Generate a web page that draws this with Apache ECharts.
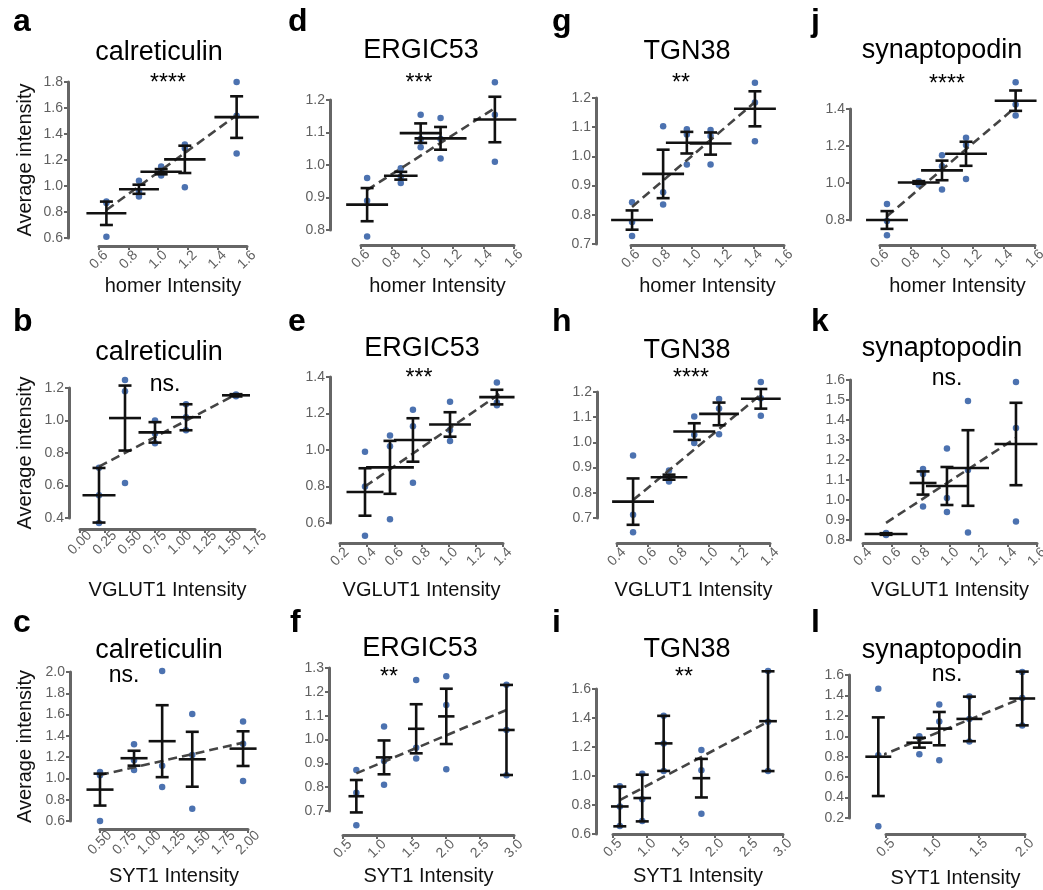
<!DOCTYPE html>
<html><head><meta charset="utf-8">
<script src="https://cdn.jsdelivr.net/npm/echarts@6/dist/echarts.min.js"></script>
<style>html,body{margin:0;padding:0;background:#fff}#c{width:1043px;height:890px}</style>
</head><body><div id="c"></div>
<script>
// ---------------- DATA ----------------
// Each panel: group x-means, y-means, y-SEM, x half-width (x-SEM), replicate points, fitted line ends
const A_X = [0.65, 0.87, 1.02, 1.18, 1.53];
const A_MEAN = [0.79, 0.975, 1.11, 1.205, 1.53];
const A_SEM = [0.09, 0.035, 0.02, 0.105, 0.16];
const A_XERR = [0.135, 0.135, 0.14, 0.14, 0.15];
const A_PTS = [[0.88,0.87,0.61],[1.04,0.96,0.92],[1.15,1.12,1.08],[1.32,1.29,0.99],[1.80,1.54,1.25]];
const A_FIT = [[0.65,0.815],[1.53,1.545]];

const B_X = [0.19, 0.45, 0.75, 1.06, 1.56];
const B_MEAN = [0.54, 1.015, 0.927, 1.02, 1.155];
const B_SEM = [0.168, 0.2, 0.063, 0.08, 0.007];
const B_XERR = [0.165, 0.16, 0.165, 0.15, 0.14];
const B_PTS = [[0.71,0.54,0.37],[1.25,1.18,0.615],[1.0,0.92,0.86],[1.1,1.02,0.94],[1.16,1.155,1.15]];
const B_FIT = [[0.19,0.716],[1.56,1.161]];

const C_X = [0.5, 0.845, 1.13, 1.435, 1.95];
const C_MEAN = [0.895, 1.19, 1.35, 1.18, 1.28];
const C_SEM = [0.15, 0.07, 0.338, 0.258, 0.163];
const C_XERR = [0.137, 0.137, 0.137, 0.137, 0.137];
const C_PTS = [[1.06,1.03,0.6],[1.32,1.17,1.08],[2.01,1.12,0.92],[1.605,1.22,0.715],[1.535,1.325,0.975]];
const C_FIT = [[0.5,1.032],[1.95,1.336]];

const D_X = [0.64, 0.86, 0.99, 1.12, 1.475];
const D_MEAN = [0.878, 0.967, 1.098, 1.082, 1.14];
const D_SEM = [0.051, 0.012, 0.03, 0.035, 0.07];
const D_XERR = [0.137, 0.11, 0.137, 0.17, 0.14];
const D_PTS = [[0.96,0.89,0.78],[0.99,0.965,0.945],[1.155,1.08,1.055],[1.145,1.08,1.02],[1.255,1.155,1.01]];
const D_FIT = [[0.64,0.923],[1.475,1.175]];

const E_X = [0.384, 0.568, 0.737, 1.01, 1.355];
const E_MEAN = [0.77, 0.905, 1.055, 1.14, 1.29];
const E_SEM = [0.13, 0.145, 0.119, 0.067, 0.04];
const E_XERR = [0.136, 0.176, 0.14, 0.154, 0.13];
const E_PTS = [[0.99,0.80,0.53],[1.08,1.02,0.62],[1.22,1.13,0.82],[1.265,1.11,1.05],[1.37,1.26,1.245]];
const E_FIT = [[0.384,0.80],[1.38,1.31]];

const F_X = [0.695, 1.1, 1.57, 2.01, 2.89];
const F_MEAN = [0.762, 0.925, 1.045, 1.097, 1.04];
const F_SEM = [0.068, 0.071, 0.103, 0.116, 0.189];
const F_XERR = [0.115, 0.12, 0.12, 0.12, 0.12];
const F_PTS = [[0.872,0.777,0.64],[1.055,0.91,0.81],[1.25,0.965,0.92],[1.265,1.145,0.875],[1.23,1.04,0.85]];
const F_FIT = [[0.695,0.858],[2.89,1.124]];

const G_X = [0.607, 0.81, 0.965, 1.12, 1.41];
const G_MEAN = [0.782, 0.94, 1.047, 1.044, 1.163];
const G_SEM = [0.033, 0.083, 0.037, 0.038, 0.06];
const G_XERR = [0.137, 0.137, 0.137, 0.137, 0.137];
const G_PTS = [[0.843,0.775,0.727],[1.103,0.877,0.835],[1.093,1.075,0.972],[1.09,1.07,0.972],[1.252,1.185,1.052]];
const G_FIT = [[0.607,0.827],[1.41,1.186]];

const H_X = [0.505, 0.74, 0.905, 1.067, 1.34];
const H_MEAN = [0.765, 0.862, 1.043, 1.113, 1.173];
const H_SEM = [0.092, 0.01, 0.033, 0.045, 0.039];
const H_XERR = [0.137, 0.12, 0.137, 0.13, 0.13];
const H_PTS = [[0.948,0.713,0.643],[0.888,0.853,0.845],[1.103,1.03,0.998],[1.172,1.135,1.032],[1.24,1.175,1.106]];
const H_FIT = [[0.505,0.771],[1.34,1.19]];

const I_X = [0.6, 0.93, 1.245, 1.8, 2.78];
const I_MEAN = [0.79, 0.848, 1.225, 0.985, 1.378];
const I_SEM = [0.137, 0.161, 0.19, 0.133, 0.344];
const I_XERR = [0.13, 0.13, 0.13, 0.13, 0.13];
const I_PTS = [[0.93,0.79,0.655],[1.015,0.84,0.69],[1.415,1.225,1.035],[1.18,1.04,0.74],[1.725,1.375,1.035]];
const I_FIT = [[0.6,0.834],[2.78,1.375]];

const J_X = [0.645, 0.85, 1.0, 1.155, 1.475];
const J_MEAN = [0.80, 1.003, 1.068, 1.158, 1.445];
const J_SEM = [0.048, 0.007, 0.053, 0.065, 0.055];
const J_XERR = [0.135, 0.135, 0.135, 0.135, 0.135];
const J_PTS = [[0.887,0.795,0.718],[1.01,1.0,0.99],[1.15,1.09,0.965],[1.245,1.205,1.022],[1.545,1.425,1.365]];
const J_FIT = [[0.645,0.82],[1.475,1.41]];

const K_X = [0.559, 0.814, 0.979, 1.124, 1.455];
const K_MEAN = [0.83, 1.085, 1.07, 1.16, 1.28];
const K_SEM = [0.004, 0.058, 0.095, 0.189, 0.206];
const K_XERR = [0.148, 0.093, 0.145, 0.145, 0.148];
const K_PTS = [[0.835,0.83,0.825],[1.155,1.13,0.968],[1.258,1.01,0.94],[1.495,1.15,0.837],[1.59,1.36,0.893]];
const K_FIT = [[0.559,0.886],[1.455,1.31]];

const L_X = [0.417, 0.86, 1.075, 1.40, 1.97];
const L_MEAN = [0.80, 0.937, 1.075, 1.17, 1.37];
const L_SEM = [0.385, 0.048, 0.163, 0.218, 0.263];
const L_XERR = [0.14, 0.14, 0.14, 0.14, 0.14];
const L_PTS = [[1.465,0.815,0.12],[1.0,0.985,0.825],[1.31,1.145,0.765],[1.39,1.17,0.95],[1.63,1.375,1.105]];
const L_FIT = [[0.417,0.80],[1.97,1.374]];

// ---------------- TEXT / TICKS ----------------
const PANEL_IDS = ['a','b','c','d','e','f','g','h','i','j','k','l'];
const TITLES = ['calreticulin','calreticulin','calreticulin','ERGIC53','ERGIC53','ERGIC53',
                'TGN38','TGN38','TGN38','synaptopodin','synaptopodin','synaptopodin'];
const SIGNIF = ['****','ns.','ns.','***','***','**','**','****','**','****','ns.','ns.'];
const X_NAMES = ['homer Intensity','VGLUT1 Intensity','SYT1 Intensity'];
const Y_NAME = 'Average intensity';
// [min, max, step, decimals]
const X_TICKS = [[0.6,1.6,0.2,1],[0,1.75,0.25,2],[0.5,2.0,0.25,2],
                 [0.6,1.6,0.2,1],[0.2,1.4,0.2,1],[0.5,3.0,0.5,1],
                 [0.6,1.6,0.2,1],[0.4,1.4,0.2,1],[0.5,3.0,0.5,1],
                 [0.6,1.6,0.2,1],[0.4,1.6,0.2,1],[0.5,2.0,0.5,1]];
const Y_TICKS = [[0.6,1.8,0.2,1],[0.4,1.2,0.2,1],[0.6,2.0,0.2,1],
                 [0.8,1.2,0.1,1],[0.6,1.4,0.2,1],[0.7,1.3,0.1,1],
                 [0.7,1.2,0.1,1],[0.7,1.2,0.1,1],[0.6,1.6,0.2,1],
                 [0.8,1.4,0.2,1],[0.8,1.6,0.1,1],[0.2,1.6,0.2,1]];

// ---------------- LAYOUT (pixels) ----------------
// grid left, top, width, height, y-axis offset, x-axis offset, x name gap, y name gap
const LAYOUT = {
  a:{l:99, t:82, w:148,h:156,yo:31,xo:8, xg:30,yg:33},
  b:{l:80, t:388,w:175,h:130,yo:11,xo:11,xg:51,yg:34},
  c:{l:100,t:672,w:148,h:149,yo:30,xo:8, xg:37,yg:35},
  d:{l:361,t:100,w:153,h:130,yo:31,xo:15,xg:31},
  e:{l:340,t:377,w:163,h:146,yo:10,xo:20,xg:37},
  f:{l:343,t:668,w:171,h:143,yo:14,xo:24,xg:31},
  g:{l:631,t:98, w:153,h:146,yo:35,xo:1, xg:31},
  h:{l:617,t:392,w:153,h:126,yo:20,xo:25,xg:37},
  i:{l:613,t:689,w:170,h:145,yo:17,xo:0, xg:32},
  j:{l:880,t:109,w:155,h:111,yo:30,xo:25,xg:31},
  k:{l:863,t:380,w:174,h:160,yo:13,xo:3, xg:37},
  l:{l:886,t:675,w:139,h:143,yo:37,xo:16,xg:34}
};
const LETTER_POS = {a:[13,33],b:[13,333],c:[13,634],d:[288,33],e:[288,333],f:[290,634],
                    g:[552,33],h:[552,333],i:[552,634],j:[811,33],k:[811,333],l:[811,634]};
const TITLE_POS = {a:[159,62],b:[159,362],c:[159,660],d:[421,60],e:[422,358],f:[420,658],
                   g:[687,61],h:[687,360],i:[687,659],j:[942,60],k:[942,358],l:[942,660]};
const SIG_POS = {a:[168,84],b:[165,385],c:[124,676],d:[419,84],e:[419,379],f:[389,678],
                 g:[681,84],h:[691,379],i:[684,678],j:[947,85],k:[947,379],l:[947,675]};

const DATA = {
  a:[A_X,A_MEAN,A_SEM,A_XERR,A_PTS,A_FIT], b:[B_X,B_MEAN,B_SEM,B_XERR,B_PTS,B_FIT],
  c:[C_X,C_MEAN,C_SEM,C_XERR,C_PTS,C_FIT], d:[D_X,D_MEAN,D_SEM,D_XERR,D_PTS,D_FIT],
  e:[E_X,E_MEAN,E_SEM,E_XERR,E_PTS,E_FIT], f:[F_X,F_MEAN,F_SEM,F_XERR,F_PTS,F_FIT],
  g:[G_X,G_MEAN,G_SEM,G_XERR,G_PTS,G_FIT], h:[H_X,H_MEAN,H_SEM,H_XERR,H_PTS,H_FIT],
  i:[I_X,I_MEAN,I_SEM,I_XERR,I_PTS,I_FIT], j:[J_X,J_MEAN,J_SEM,J_XERR,J_PTS,J_FIT],
  k:[K_X,K_MEAN,K_SEM,K_XERR,K_PTS,K_FIT], l:[L_X,L_MEAN,L_SEM,L_XERR,L_PTS,L_FIT]
};

const FONT = '"Liberation Sans", Arial, sans-serif';
const AXIS_GRAY = '#666';
const TICK_TXT = '#606060';
const TITLE_SIZE = 27, LETTER_SIZE = 32, SIG_SIZE = 23;

function errRenderItem(params, api) {
  const x = api.value(0), m = api.value(1), s = api.value(2), xe = api.value(3);
  const lo = api.coord([x, m - s]);
  const hi = api.coord([x, m + s]);
  const pl = api.coord([x - xe, m]);
  const pr = api.coord([x + xe, m]);
  const cap = 6.5;
  const st = {stroke:'#111', lineWidth:2.6, fill:null};
  const ln = (x1,y1,x2,y2) => ({type:'line', shape:{x1,y1,x2,y2}, style:st});
  return {type:'group', children:[
    ln(lo[0], lo[1], hi[0], hi[1]),
    ln(lo[0]-cap, lo[1], lo[0]+cap, lo[1]),
    ln(hi[0]-cap, hi[1], hi[0]+cap, hi[1]),
    ln(pl[0], pl[1], pr[0], pr[1])
  ]};
}

const option = {animation:false, backgroundColor:'#ffffff', textStyle:{fontFamily:FONT},
  grid:[], xAxis:[], yAxis:[], series:[], graphic:[]};

PANEL_IDS.forEach((id, k) => {
  const L = LAYOUT[id];
  const col = Math.floor(k / 3), row = k % 3;
  const [X, MEAN, SEM, XERR, PTS, FIT] = DATA[id];
  const xt = X_TICKS[k], yt = Y_TICKS[k];
  option.grid.push({left:L.l, top:L.t, width:L.w, height:L.h, containLabel:false, outerBoundsMode:'none'});
  option.xAxis.push({
    gridIndex:k, type:'value', min:xt[0], max:xt[1], interval:xt[2], offset:L.xo,
    name:X_NAMES[row], nameLocation:'middle', nameGap:L.xg,
    nameTextStyle:{fontSize:20, color:'#111', fontFamily:FONT},
    axisLine:{show:true, onZero:false, lineStyle:{color:AXIS_GRAY, width:3}},
    axisTick:{show:true, length:4, lineStyle:{color:AXIS_GRAY, width:2}},
    axisLabel:{rotate:45, align:'center', verticalAlign:'middle', margin:14, fontSize:14,
      color:TICK_TXT, fontFamily:FONT, formatter:v => v.toFixed(xt[3])},
    splitLine:{show:false}
  });
  option.yAxis.push({
    gridIndex:k, type:'value', min:yt[0], max:yt[1], interval:yt[2], offset:L.yo,
    name: col === 0 ? Y_NAME : '', nameLocation:'middle', nameGap:L.yg || 33,
    nameTextStyle:{fontSize:20, color:'#111', fontFamily:FONT},
    axisLine:{show:true, onZero:false, lineStyle:{color:AXIS_GRAY, width:3}},
    axisTick:{show:true, length:4, lineStyle:{color:AXIS_GRAY, width:2}},
    axisLabel:{margin:5, fontSize:14, color:TICK_TXT, fontFamily:FONT, formatter:v => v.toFixed(yt[3])},
    splitLine:{show:false}
  });
  const pts = [];
  X.forEach((x, g) => PTS[g].forEach(v => pts.push([x, v])));
  option.series.push({type:'scatter', xAxisIndex:k, yAxisIndex:k, data:pts, symbolSize:6.5,
    itemStyle:{color:'#4c72b0', opacity:1}, clip:false, z:2, silent:true});
  option.series.push({type:'line', xAxisIndex:k, yAxisIndex:k, data:FIT, showSymbol:false, symbol:'none',
    lineStyle:{color:'#444', width:2.6, type:[9,5]}, clip:false, z:3, silent:true});
  option.series.push({type:'custom', xAxisIndex:k, yAxisIndex:k, renderItem:errRenderItem,
    data:X.map((x, g) => [x, MEAN[g], SEM[g], XERR[g]]), encode:{x:0, y:1}, clip:false, z:4, silent:true});

  const lp = LETTER_POS[id], tp = TITLE_POS[id], sp = SIG_POS[id];
  option.graphic.push({type:'text', x:lp[0], y:lp[1] - 0.35 * LETTER_SIZE, silent:true,
    style:{text:id, fill:'#000', font:'bold ' + LETTER_SIZE + 'px ' + FONT, align:'left', verticalAlign:'middle'}});
  option.graphic.push({type:'text', x:tp[0], y:tp[1] - 0.35 * TITLE_SIZE, silent:true,
    style:{text:TITLES[k], fill:'#000', font:TITLE_SIZE + 'px ' + FONT, align:'center', verticalAlign:'middle'}});
  option.graphic.push({type:'text', x:sp[0], y:sp[1], silent:true,
    style:{text:SIGNIF[k], fill:'#000', font:SIG_SIZE + 'px ' + FONT, align:'center', verticalAlign:'middle'}});
});

const chart = echarts.init(document.getElementById('c'), null, {renderer:'canvas'});
chart.setOption(option);
</script>
</body></html>
